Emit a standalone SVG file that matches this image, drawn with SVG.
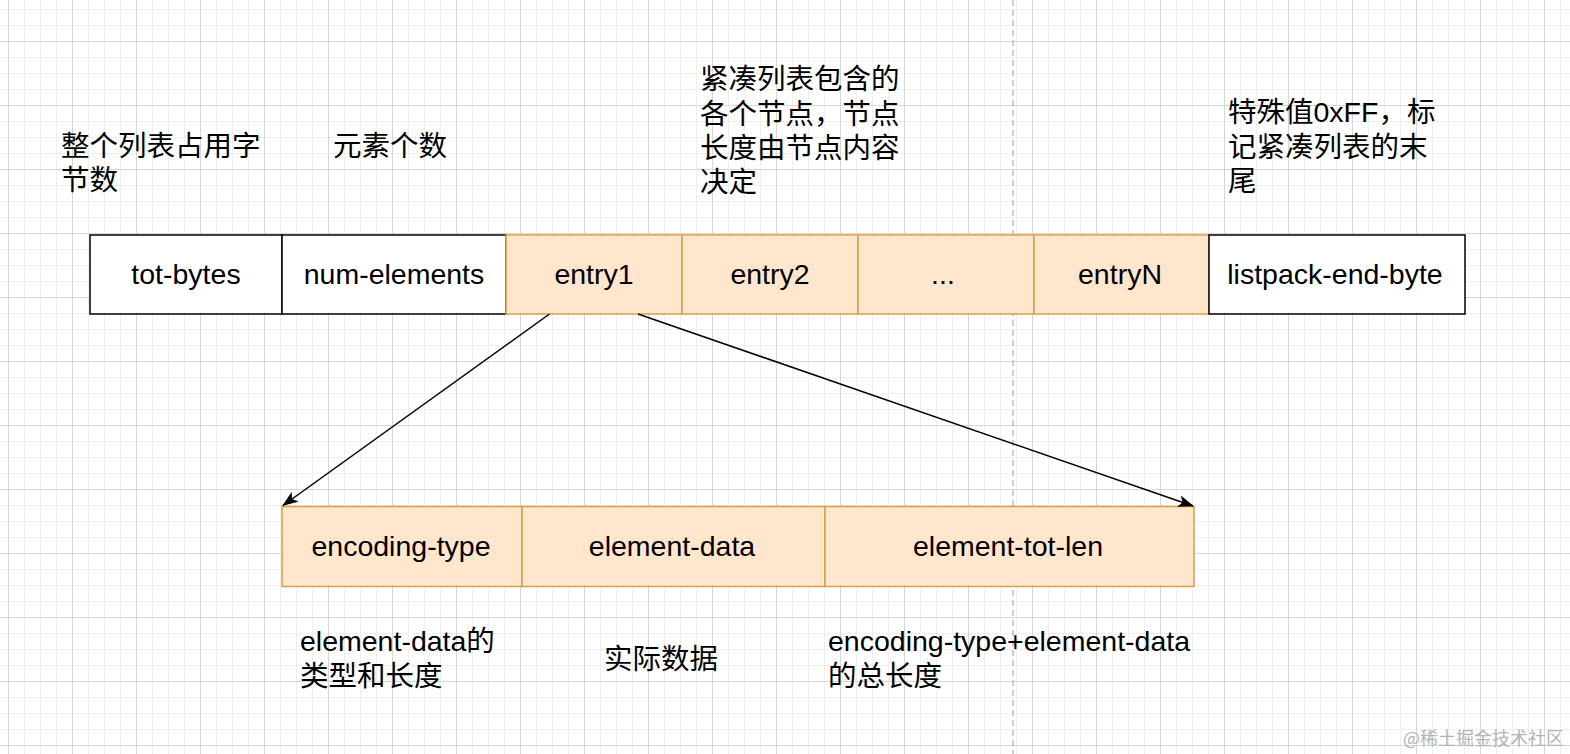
<svg xmlns="http://www.w3.org/2000/svg" width="1570" height="754" viewBox="0 0 1570 754">
<style>
.t{font-family:"Liberation Sans",Arial,"Noto Sans CJK SC",sans-serif;font-size:28.5px;fill:#000}
.c{text-anchor:middle}
.w{fill:#fff;stroke:#000;stroke-width:1.5}
.o{fill:#ffe6cc;stroke:#d6a048;stroke-width:1.5}
.edge{stroke:#000;stroke-width:1.5;fill:none}
.wm{font-family:"Noto Sans CJK SC","Liberation Sans",sans-serif;font-size:18px;fill:#b3b3b3}
</style>
<defs>
<pattern id="grid" patternUnits="userSpaceOnUse" x="8" y="41" width="64" height="64">
<rect x="16" y="0" width="1" height="64" fill="#efefef"/>
<rect x="32" y="0" width="1" height="64" fill="#efefef"/>
<rect x="48" y="0" width="1" height="64" fill="#efefef"/>
<rect x="0" y="16" width="64" height="1" fill="#efefef"/>
<rect x="0" y="32" width="64" height="1" fill="#efefef"/>
<rect x="0" y="48" width="64" height="1" fill="#efefef"/>
<rect x="0" y="0" width="1" height="64" fill="#d6d6d6"/>
<rect x="0" y="0" width="64" height="1" fill="#d6d6d6"/>
</pattern>
<marker id="arr" viewBox="0 0 16 12" refX="15" refY="6" markerWidth="16" markerHeight="12" markerUnits="userSpaceOnUse" orient="auto">
<path d="M0,0 L16,6 L0,12 L4,6 Z" fill="#000"/>
</marker>
</defs>
<rect width="1570" height="754" fill="#fff"/>
<rect width="1570" height="754" fill="url(#grid)"/>
<line x1="1013" y1="0" x2="1013" y2="754" stroke="#bdbdbd" stroke-width="1.5" stroke-dasharray="6 4"/>

<g id="label-totbytes">
<text class="t" x="61" y="156">整个列表占用字</text>
<text class="t" x="61" y="190">节数</text>
</g>
<g id="label-numelements">
<text class="t" x="333" y="156">元素个数</text>
</g>
<g id="label-entries">
<text class="t" x="700" y="89">紧凑列表包含的</text>
<text class="t" x="700" y="124">各个节点，节点</text>
<text class="t" x="700" y="158">长度由节点内容</text>
<text class="t" x="700" y="192">决定</text>
</g>
<g id="label-end">
<text class="t" x="1228" y="122">特殊值0xFF，标</text>
<text class="t" x="1228" y="157">记紧凑列表的末</text>
<text class="t" x="1228" y="191">尾</text>
</g>

<g id="tot-bytes"><rect class="w" x="90" y="235" width="192" height="79"/><text class="t c" x="186" y="284">tot-bytes</text></g>
<g id="num-elements"><rect class="w" x="282" y="235" width="224" height="79"/><text class="t c" x="394" y="284">num-elements</text></g>
<g id="entry1"><rect class="o" x="506" y="235" width="176" height="79"/><text class="t c" x="594" y="284">entry1</text></g>
<g id="entry2"><rect class="o" x="682" y="235" width="176" height="79"/><text class="t c" x="770" y="284">entry2</text></g>
<g id="entry-dots"><rect class="o" x="858" y="235" width="176" height="79"/><text class="t c" x="943" y="284">...</text></g>
<g id="entryN"><rect class="o" x="1034" y="235" width="175" height="79"/><text class="t c" x="1120" y="284">entryN</text></g>
<g id="listpack-end-byte"><rect class="w" x="1209" y="235" width="256" height="79"/><text class="t c" x="1335" y="284">listpack-end-byte</text></g>

<g id="encoding-type"><rect class="o" x="282" y="506.5" width="240" height="80"/><text class="t c" x="401" y="556">encoding-type</text></g>
<g id="element-data"><rect class="o" x="522" y="506.5" width="303" height="80"/><text class="t c" x="672" y="556">element-data</text></g>
<g id="element-tot-len"><rect class="o" x="825" y="506.5" width="369" height="80"/><text class="t c" x="1008" y="556">element-tot-len</text></g>

<g id="connectors">
<line class="edge" x1="549.5" y1="314" x2="283" y2="505.5" marker-end="url(#arr)"/>
<line class="edge" x1="638" y1="314" x2="1193" y2="506" marker-end="url(#arr)"/>
</g>

<g id="label-encoding-type">
<text class="t" x="300" y="651">element-data的</text>
<text class="t" x="300" y="686">类型和长度</text>
</g>
<g id="label-element-data">
<text class="t" x="604" y="669">实际数据</text>
</g>
<g id="label-element-tot-len">
<text class="t" x="828" y="651">encoding-type+element-data</text>
<text class="t" x="828" y="686">的总长度</text>
</g>

<text class="wm" x="1403" y="745">@稀土掘金技术社区</text>
</svg>
